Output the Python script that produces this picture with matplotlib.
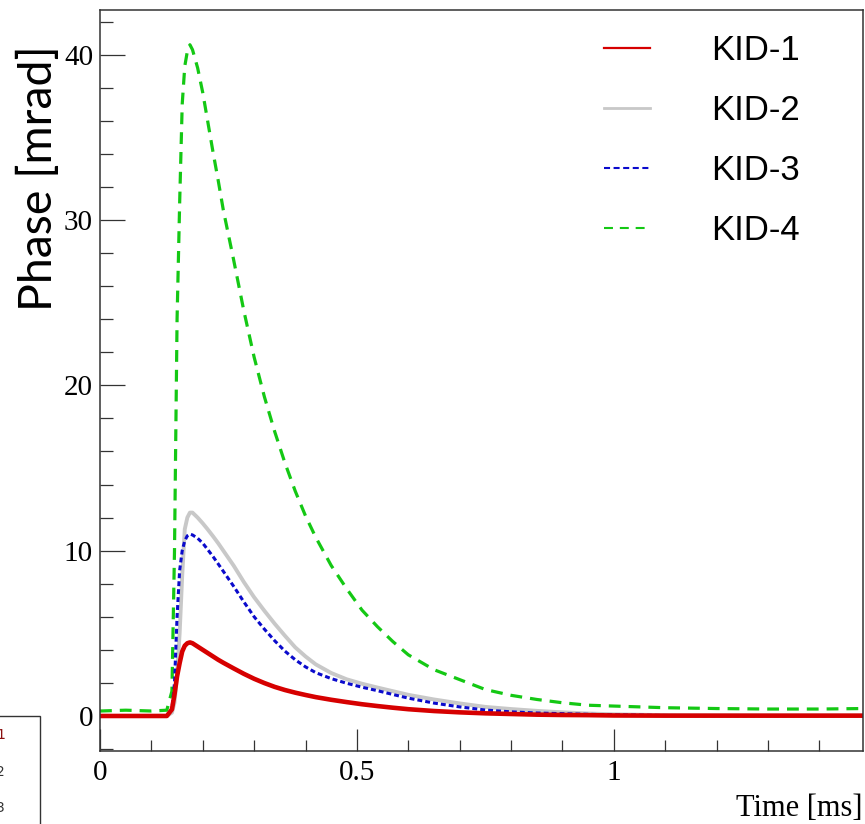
from __future__ import annotations

import matplotlib

matplotlib.use("Agg")
import matplotlib.pyplot as plt
from matplotlib.lines import Line2D
from matplotlib.patches import Rectangle
from matplotlib.ticker import MultipleLocator

# time axis [ms], shared by all four pulses
time_ms = [
    0.0, 0.05, 0.10, 0.13, 0.14, 0.145, 0.15, 0.155, 0.16, 0.165, 0.17, 0.175,
    0.18, 0.19, 0.20, 0.21, 0.22, 0.23, 0.24, 0.25, 0.26, 0.28, 0.30, 0.32,
    0.34, 0.36, 0.38, 0.40, 0.42, 0.45, 0.48, 0.51, 0.54, 0.57, 0.60, 0.65,
    0.70, 0.75, 0.80, 0.85, 0.90, 0.95, 1.00, 1.10, 1.20, 1.30, 1.40, 1.485,
]

# phase [mrad]
kid1_phase = [
    0.0, 0.0, 0.0, 0.0, 0.4, 1.3, 2.4, 3.2, 3.9, 4.25, 4.4, 4.45,
    4.4, 4.2, 4.0, 3.8, 3.6, 3.4, 3.22, 3.05, 2.88, 2.55, 2.25, 1.99,
    1.76, 1.57, 1.41, 1.27, 1.14, 0.98, 0.84, 0.71, 0.6, 0.5, 0.41, 0.3,
    0.22, 0.16, 0.12, 0.08, 0.06, 0.05, 0.03, 0.02, 0.02, 0.02, 0.02, 0.02,
]
kid2_phase = [
    0.0, 0.0, 0.0, 0.0, 0.2, 0.8, 2.5, 5.0, 8.5, 11.3, 12.0, 12.3,
    12.3, 12.0, 11.65, 11.27, 10.87, 10.45, 10.0, 9.55, 9.1, 8.1, 7.18, 6.36,
    5.58, 4.85, 4.15, 3.6, 3.12, 2.6, 2.22, 1.95, 1.72, 1.5, 1.28, 1.0,
    0.76, 0.55, 0.42, 0.31, 0.22, 0.15, 0.1, 0.05, 0.03, 0.02, 0.02, 0.02,
]
kid3_phase = [
    0.0, 0.0, 0.0, 0.0, 0.4, 2.0, 6.0, 8.8, 10.0, 10.6, 10.9, 11.0,
    10.95, 10.75, 10.45, 10.05, 9.64, 9.2, 8.75, 8.3, 7.85, 6.9, 6.0, 5.25,
    4.55, 3.92, 3.4, 2.97, 2.62, 2.26, 1.98, 1.74, 1.53, 1.3, 1.08, 0.78,
    0.55, 0.36, 0.25, 0.18, 0.14, 0.1, 0.07, 0.03, 0.02, 0.02, 0.02, 0.02,
]
kid4_phase = [
    0.3, 0.35, 0.3, 0.35, 1.5, 10.0, 24.0, 31.0, 37.0, 39.3, 40.2, 40.6,
    40.3, 39.2, 37.7, 35.9, 34.1, 32.4, 30.6, 29.1, 27.6, 24.5, 21.7, 19.3,
    17.2, 15.3, 13.6, 12.1, 10.8, 9.1, 7.7, 6.4, 5.4, 4.5, 3.7, 2.8,
    2.2, 1.6, 1.25, 1.0, 0.8, 0.65, 0.6, 0.5, 0.45, 0.42, 0.42, 0.45,
]

labels = ["KID-1", "KID-2", "KID-3", "KID-4"]
colors = ["#d60000", "#c8c8c8", "#0a0acc", "#14c814"]


def main() -> None:
    fig = plt.figure(figsize=(8.65, 8.24), dpi=100)
    ax = fig.add_axes([100 / 865, 73.3 / 824, 763 / 865, 740.7 / 824])

    # draw order: green under, red on top
    ax.plot(time_ms, kid4_phase, color=colors[3], lw=2.3, dashes=(3.7, 2.5))
    ax.plot(time_ms, kid2_phase, color=colors[1], lw=2.8)
    ax.plot(time_ms, kid3_phase, color=colors[2], lw=2.2, dashes=(1.6, 1.0))
    ax.plot(time_ms, kid1_phase, color=colors[0], lw=3.3)

    ax.set_xlim(0, 1.485)
    ax.set_ylim(-2.1, 42.7)
    ax.xaxis.set_minor_locator(MultipleLocator(0.1))
    ax.yaxis.set_major_locator(MultipleLocator(10))
    ax.yaxis.set_minor_locator(MultipleLocator(2))
    ax.set_xticks([0, 0.5, 1])
    ax.set_xticklabels(["0", "0.5", "1"])

    serif = "Liberation Serif"
    ax.tick_params(axis="both", which="both", direction="in", top=False, right=False,
                   color="#333333", width=0.9, labelsize=21)
    ax.tick_params(axis="x", which="major", length=15.5, pad=7)
    ax.tick_params(axis="x", which="minor", length=7.7)
    ax.tick_params(axis="y", which="major", length=18, pad=5)
    ax.tick_params(axis="y", which="minor", length=9.4)
    for lbl in ax.get_xticklabels() + ax.get_yticklabels():
        lbl.set_fontfamily(serif)
    for spine in ax.spines.values():
        spine.set_color("#333333")
        spine.set_linewidth(1.1)

    ax.set_xlabel("Time [ms]", fontfamily=serif, fontsize=22)
    ax.xaxis.set_label_coords(1.0, -0.058)
    ax.xaxis.label.set_horizontalalignment("right")

    ax.set_ylabel("Phase [mrad]", fontfamily="Lato", fontsize=33.5)
    ax.yaxis.set_label_coords(-0.052, 0.773)

    handles = [
        Line2D([], [], color=colors[0], lw=1.6),
        Line2D([], [], color=colors[1], lw=2.0),
        Line2D([], [], color=colors[2], lw=1.5, dashes=(2.9, 1.7)),
        Line2D([], [], color=colors[3], lw=1.5, dashes=(4.3, 3.3)),
    ]
    ax.legend(handles, labels, loc="upper left", bbox_to_anchor=(0.6606, 0.968),
              frameon=False, prop={"family": "Liberation Sans", "size": 25},
              handlelength=1.33, handletextpad=1.75, labelspacing=0.78,
              borderpad=0, borderaxespad=0)

    # clipped edge of a neighbouring legend box, bottom left
    fig.add_artist(Rectangle((-0.01, -0.01), 40 / 865 + 0.01, 108 / 824 + 0.01,
                             transform=fig.transFigure, fill=False, lw=1.0, ec="#333333"))
    for txt, ypx, col in [("1", 735, "#8b1010"), ("2", 772, "#333333"), ("3", 808, "#333333")]:
        fig.text(5 / 865, 1 - ypx / 824, txt, ha="right", va="center", fontsize=10, color=col)

    fig.savefig("out.png", dpi=100)
    plt.close(fig)


if __name__ == "__main__":
    main()
